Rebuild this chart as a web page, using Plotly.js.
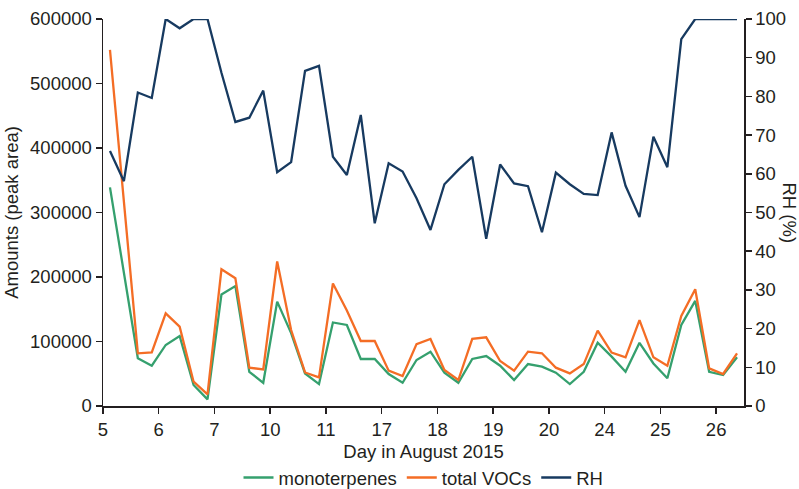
<!DOCTYPE html>
<html>
<head>
<meta charset="utf-8">
<script src="https://cdn.plot.ly/plotly-3.0.1.min.js"></script>
<style>html,body{margin:0;padding:0;background:#fff;}#chart{width:799px;height:489px;}</style>
</head>
<body>
<div id="chart"></div>
<script>
// Sampling days (August 2015) and number of samples per day
const days = [5, 6, 7, 10, 11, 17, 18, 19, 20, 24, 25, 26];
const samplesPerDay = [4, 4, 4, 4, 4, 4, 4, 4, 4, 4, 4, 2];
const sampleHours = [3, 9, 15, 21];

// Series values
const monoterpenes = [
  339000, 206000, 74000, 62500,
  94600, 108500, 32600, 10300,
  173000, 186000, 53000, 36000,
  161800, 113000, 50500, 34000,
  129500, 125600, 72900, 72900,
  49600, 36000, 71300, 84200,
  51700, 36000, 72900, 77500,
  62500, 40300, 65000, 61000,
  51700, 34000, 53000, 98000,
  76500, 53000, 98000, 66000,
  43000, 125600, 163000, 53000,
  48000, 75500
];
const totalVOCs = [
  552000, 317000, 81700, 83000,
  143700, 123000, 37700, 18000,
  212000, 198000, 59400, 56800,
  224000, 117800, 52000, 44400,
  190000, 148000, 100800, 100800,
  54800, 46500, 96000, 104000,
  55800, 40300, 104000, 106500,
  69800, 54800, 84200, 81700,
  59400, 50600, 65000, 116800,
  82700, 75500, 133000, 75500,
  62500, 139500, 181000, 58400,
  49600, 81700
];
const RH = [
  65.9, 58.1, 81.0, 79.6,
  100, 97.6, 100, 100,
  86.1, 73.4, 74.5, 81.5,
  60.4, 63.0, 86.6, 87.9,
  64.4, 59.7, 75.2, 47.2,
  62.7, 60.6, 53.7, 45.5,
  57.3, 61.0, 64.4, 43.2,
  62.4, 57.5, 56.8, 44.9,
  60.3, 57.3, 54.8, 54.5,
  70.7, 56.9, 48.8, 69.6,
  61.7, 94.8, 100, 100,
  100, 100
];

// Build sample positions: day index + fraction of day
const xs = [];
days.forEach((d, di) => {
  for (let k = 0; k < samplesPerDay[di]; k++) xs.push(di + sampleHours[k] / 24);
});

const FONT = "Arial, 'Liberation Sans', Helvetica, sans-serif";
const TXT = '#231f20';

const traces = [
  {x: xs, y: monoterpenes, name: 'monoterpenes', type: 'scatter', mode: 'lines',
   line: {color: '#35a06e', width: 2.3}},
  {x: xs, y: totalVOCs, name: 'total VOCs', type: 'scatter', mode: 'lines',
   line: {color: '#f46d25', width: 2.3}},
  {x: xs, y: RH, name: 'RH', type: 'scatter', mode: 'lines', yaxis: 'y2',
   line: {color: '#173a60', width: 2.3}}
];

const layout = {
  width: 799, height: 489,
  margin: {l: 103, r: 55, t: 19, b: 83, autoexpand: false},
  paper_bgcolor: '#fff', plot_bgcolor: '#fff',
  font: {family: FONT, size: 18.5, color: TXT},
  showlegend: true,
  legend: {orientation: 'h', x: 0.5, xanchor: 'center', y: -0.186, yanchor: 'middle',
           font: {family: FONT, size: 18.5, color: TXT}, itemwidth: 30, tracegroupgap: 0},
  xaxis: {
    range: [0, 11.5], tickmode: 'array', automargin: false,
    tickvals: days.map((d, i) => i), ticktext: days.map(String),
    showgrid: false, zeroline: false, showline: true, linecolor: TXT, linewidth: 1.5,
    ticks: 'outside', ticklen: 6, tickwidth: 1.5, tickcolor: TXT,
    tickfont: {family: FONT, size: 18.5, color: TXT},
    title: {text: 'Day in August 2015', font: {family: FONT, size: 18.5, color: TXT}, standoff: 6}
  },
  yaxis: {
    range: [0, 600000], tickmode: 'linear', tick0: 0, dtick: 100000, automargin: false,
    showgrid: false, zeroline: false, showline: true, linecolor: TXT, linewidth: 1.5,
    ticks: 'outside', ticklen: 6, tickwidth: 1.5, tickcolor: TXT,
    tickformat: 'd',
    tickfont: {family: FONT, size: 18.5, color: TXT},
    title: {text: 'Amounts (peak area)', font: {family: FONT, size: 18.5, color: TXT}, standoff: 6}
  },
  yaxis2: {
    overlaying: 'y', side: 'right', range: [0, 100], tickmode: 'linear', tick0: 0, dtick: 10,
    automargin: false,
    showgrid: false, zeroline: false, showline: true, linecolor: TXT, linewidth: 1.5,
    ticks: 'outside', ticklen: 6, tickwidth: 1.5, tickcolor: TXT,
    tickfont: {family: FONT, size: 18.5, color: TXT}
  },
  annotations: [{
    text: 'RH (%)', xref: 'paper', yref: 'paper', x: 1, xshift: 45, y: 0.5,
    xanchor: 'center', yanchor: 'middle', textangle: 90, showarrow: false,
    font: {family: FONT, size: 18.5, color: TXT}
  }]
};

Plotly.newPlot('chart', traces, layout, {displayModeBar: false, staticPlot: true});
</script>
</body>
</html>
